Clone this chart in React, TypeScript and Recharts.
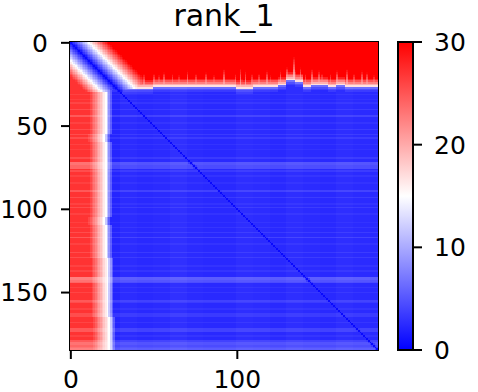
import React, { useMemo } from "react";
import { ScatterChart, Scatter, XAxis, YAxis, ReferenceArea, BarChart, Bar } from "recharts";

document.body.style.margin = "0";

const N = 185;
const xTicks = [0, 100];
const yTicks = [0, 50, 100, 150];
const cbTicks = [0, 10, 20, 30];
const cbData = [{ name: "rank_1", top: 30 }];

// last row of the red block on top, one value per 5 columns
const topEdge = [27, 27, 27, 27, 27, 27, 28, 28, 28, 28, 27, 27, 27, 27, 27, 27, 27, 27, 27, 27, 28, 28, 27, 27, 27, 26, 23, 24, 27, 26, 26, 27, 26, 27, 27, 27, 27];
// column where the red block on the left turns white, one value per 5 rows
const leftEdge = [20, 20, 20, 20, 20, 21, 21, 21, 21, 21, 21, 20, 21, 21, 21, 21, 21, 21, 21, 21, 21, 20, 21, 21, 21, 21, 22, 22, 22, 22, 22, 22, 22, 23, 23, 23, 23];
// pale streaks hanging down into the top red block
const streakCols = [38, 44, 50, 53, 56, 61, 65, 70, 75, 81, 86, 92, 99, 102, 105, 109, 113, 118, 120, 126, 130, 134, 138, 141, 145, 149, 151, 156, 160, 166, 170, 175, 178, 182];
const streakLen = [8, 10, 9, 8, 10, 9, 8, 11, 9, 10, 8, 12, 9, 14, 12, 10, 9, 11, 8, 10, 9, 16, 10, 9, 11, 10, 8, 9, 10, 12, 9, 11, 10, 8];
// paler rows (blue gets lighter, red gets pinker)
const stripeRows = [31, 34, 36, 40, 44, 48, 52, 55, 57, 61, 64, 69, 72, 73, 74, 75, 77, 80, 84, 89, 93, 97, 99, 103, 108, 111, 114, 117, 121, 126, 129, 134, 137, 141, 142, 143, 144, 147, 150, 155, 156, 160, 163, 164, 168, 172, 173, 176, 179, 180, 181, 182, 183, 184];
const stripeAmt = [0.6, 0.5, 0.7, 1, 1.5, 0.6, 1, 1, 1, 0.6, 0.5, 1, 2.5, 2.5, 2, 2, 1, 0.6, 0.5, 1.5, 1, 0.6, 1, 0.6, 0.5, 0.7, 1, 1.5, 0.6, 1, 1, 0.6, 0.7, 3, 3, 2.5, 2, 0.6, 0.7, 1.5, 1, 0.6, 1, 1, 0.7, 1.5, 1.5, 0.6, 1.5, 2.5, 2.5, 2, 2.5, 3];
// paler column bands in the blue block, one value per 10 columns
const colShade = [0, 0, 0, 0.4, 0.2, 0.3, 0.6, 0.3, 0.2, 0.2, 0.5, 0.4, 0.2, 0.5, 0.3, 0.2, 0.5, 0.3, 0.2];

const blueBase = 2.2;
const leftRed = 27;

const PLOT_L = 70, PLOT_T = 42, PLOT_W = 308, PLOT_H = 308;
const cellW = PLOT_W / N;
const cellH = PLOT_H / N;
const font = "DejaVu Sans";

function bwr(v: number) {
  const t = Math.max(0, Math.min(1, v / 30));
  let r, g, b;
  if (t < 0.5) {
    r = g = Math.round(510 * t);
    b = 255;
  } else {
    r = 255;
    g = b = Math.round(510 * (1 - t));
  }
  return `rgb(${r},${g},${b})`;
}

function buildMatrix() {
  const streak: Record<number, number> = {};
  streakCols.forEach((c, k) => {
    streak[c] = Math.max(streak[c] || 0, streakLen[k]);
    streak[c + 1] = Math.max(streak[c + 1] || 0, streakLen[k] * 0.5);
  });
  const light: Record<number, number> = {};
  stripeRows.forEach((r, k) => (light[r] = stripeAmt[k]));

  const rows = [];
  for (let i = 0; i < N; i++) {
    const L = leftEdge[Math.floor(i / 5)];
    const li = light[i] || 0;
    // the band round the diagonal is wide in the top-left block, thin below
    const slope = i < 30 ? 1.3 : 3;
    const values: number[] = [];
    for (let j = 0; j < N; j++) {
      const T = topEdge[Math.floor(j / 5)];
      const blue = blueBase + li + colShade[Math.floor(j / 10)];
      let v: number;
      if (i > j + 4 && j < L + 5) {
        const d = j - L;
        const red = leftRed - li * 1.5;
        let t: number;
        if (d <= -10) t = red;
        else if (d <= 0) t = 15 + (red - 15) * (-d / 10);
        else t = 15 - (15 - blue) * (d / 4);
        v = Math.max(t, blue);
      } else if (i < T) {
        const e = T - i;
        v = Math.min(34, 14 + 2.8 * e);
        const len = streak[j];
        if (len && e <= len) v = Math.min(v, 17 + (14 * e) / len);
      } else {
        v = blue;
        const below = i - T;
        if (below < 3) v += [4, 2, 1][below];
      }
      const dg = 0.5 + slope * Math.abs(i - j);
      values.push(Math.min(v, dg));
    }
    rows.push({ x: 0, y: i, values });
  }
  return rows;
}

function RowShape(props: any) {
  const { cx, cy, payload } = props;
  const vals: number[] = payload.values;
  const rects = [];
  let start = 0;
  let col = bwr(vals[0]);
  for (let j = 1; j <= N; j++) {
    const c = j < N ? bwr(vals[j]) : "";
    if (c !== col) {
      rects.push(
        <rect key={start} x={cx + (start - 0.5) * cellW} y={cy - cellH / 2} width={(j - start) * cellW} height={cellH} fill={col} />
      );
      start = j;
      col = c;
    }
  }
  return <g shapeRendering="crispEdges">{rects}</g>;
}

const tickStyle = { fill: "#000", fontSize: 25, fontFamily: font };
const lineStyle = { stroke: "#000", strokeWidth: 2 };

export default function App() {
  const rows = useMemo(buildMatrix, []);
  return (
    <div style={{ position: "relative", width: 478, height: 392, background: "#fff" }}>
      <div style={{ position: "absolute", left: 0, top: 0 }}>
        <ScatterChart width={478} height={392} margin={{ top: PLOT_T, right: 100, bottom: 0, left: 10 }}>
          <XAxis
            type="number"
            dataKey="x"
            domain={[-0.5, N - 0.5]}
            allowDataOverflow
            ticks={xTicks}
            interval={0}
            height={42}
            tickSize={9}
            tickMargin={11}
            tick={tickStyle}
            axisLine={lineStyle}
            tickLine={lineStyle}
          />
          <YAxis
            type="number"
            dataKey="y"
            reversed
            domain={[-0.5, N - 0.5]}
            allowDataOverflow
            ticks={yTicks}
            interval={0}
            width={60}
            tickSize={9}
            tickMargin={13}
            tick={tickStyle}
            axisLine={lineStyle}
            tickLine={lineStyle}
          />
          <Scatter data={rows} shape={RowShape} isAnimationActive={false} />
          <ReferenceArea x1={-0.5} x2={N - 0.5} y1={-0.5} y2={N - 0.5} fill="none" fillOpacity={0} stroke="#000" strokeWidth={2} ifOverflow="visible" />
        </ScatterChart>
      </div>
      <div style={{ position: "absolute", left: 0, top: 0 }}>
        <BarChart width={478} height={392} data={cbData} margin={{ top: PLOT_T, right: 0, bottom: 42, left: 398 }} barCategoryGap={0}>
          <defs>
            <linearGradient id="bwrGrad" x1="0" y1="1" x2="0" y2="0">
              <stop offset="0" stopColor="#0000ff" />
              <stop offset="0.5" stopColor="#ffffff" />
              <stop offset="1" stopColor="#ff0000" />
            </linearGradient>
          </defs>
          <XAxis dataKey="name" hide />
          <YAxis
            orientation="right"
            type="number"
            domain={[0, 30]}
            ticks={cbTicks}
            interval={0}
            width={65}
            tickSize={9}
            tickMargin={12}
            tick={tickStyle}
            axisLine={false}
            tickLine={lineStyle}
          />
          <Bar dataKey="top" fill="url(#bwrGrad)" stroke="#000" strokeWidth={2} isAnimationActive={false} />
        </BarChart>
      </div>
      <svg width={478} height={40} style={{ position: "absolute", left: 0, top: 0 }}>
        <text x={PLOT_L + PLOT_W / 2} y={26} textAnchor="middle" fontSize={30} fontFamily={font} fill="#000">
          rank_1
        </text>
      </svg>
    </div>
  );
}
